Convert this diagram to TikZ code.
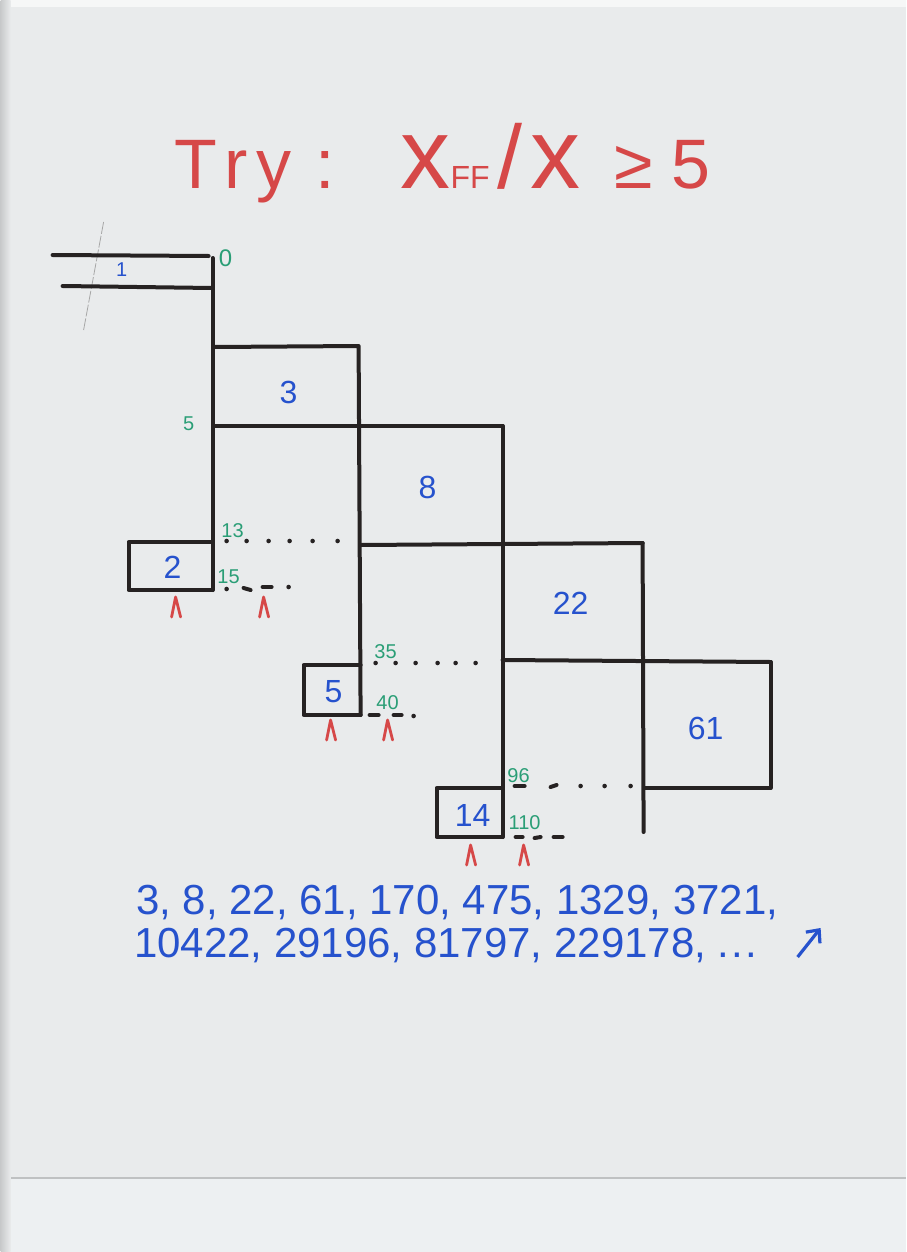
\documentclass[tikz,border=0pt]{standalone}
\usepackage{fontspec}
\setmainfont{Liberation Sans}
\usetikzlibrary{arrows.meta}
\definecolor{paper}{RGB}{233,235,236}
\definecolor{paperlow}{RGB}{237,240,242}
\definecolor{inkblack}{RGB}{38,34,34}
\definecolor{penred}{RGB}{214,72,72}
\definecolor{penblue}{RGB}{38,82,205}
\definecolor{pengreen}{RGB}{42,158,118}
\newcommand\bigx{{\fontsize{50}{50}\selectfont x}}

\begin{document}
\begin{tikzpicture}[x=0.5pt,y=-0.5pt,
    ink/.style={line width=2pt,inkblack,line cap=round,line join=round},
    boxnum/.style={text=penblue,font=\fontsize{16}{16}\selectfont},
    cutnum/.style={text=pengreen,font=\fontsize{10}{10}\selectfont},
    seqline/.style={text=penblue,font=\fontsize{21}{21}\selectfont,inner sep=0pt,anchor=base west},
    upmark/.style={penred,line width=1.4pt,line cap=round,line join=round}]

    % scanned page
    \fill[paper] (0,0) rectangle (905,1252);
    \fill[white!60!paper] (0,0) rectangle (905,7);
    \fill[paperlow] (0,1178) rectangle (905,1252);
    \draw[black!18!paper,line width=0.6pt] (0,1178) -- (905,1178);
    \shade[left color=black!14!paper,right color=paper] (0,0) rectangle (10,1252);
    \useasboundingbox (0,0) rectangle (905,1252);
    \draw[gray!70,line width=0.4pt,dash pattern=on 6pt off 1pt] (103,222) -- (83,330);

    % staircase
    \draw[ink] (52,255) -- (208,256);
    \draw[ink] (62,286) -- (211,288);
    \draw[ink] (212,258) -- (212,590);
    \draw[ink] (212,542) -- (128,542) -- (128,590) -- (212,590);
    \draw[ink] (214,347) -- (358,346) -- (360,715);
    \draw[ink] (214,426) -- (502,426);
    \draw[ink] (502,426) -- (502,837);
    \draw[ink] (360,545) -- (642,543);
    \draw[ink] (642,543) -- (643,832);
    \draw[ink] (502,660) -- (770,662);
    \draw[ink] (770,662) -- (770,788) -- (645,788);
    \draw[ink] (360,665) -- (303,665) -- (303,715) -- (360,715);
    \draw[ink] (502,788) -- (436,788) -- (436,837) -- (502,837);

    \node[boxnum,font=\fontsize{10}{10}\selectfont] (n1) at (121,270) {1};
    \node[boxnum] (n3) at (288,392) {3};
    \node[boxnum] (n8) at (427,487) {8};
    \node[boxnum] (n22) at (570,603) {22};
    \node[boxnum] (n61) at (705,728) {61};
    \node[boxnum] (n2) at (172,567) {2};
    \node[boxnum] (n5) at (333,692) {5};
    \node[boxnum] (n14) at (472,815) {14};

    \node[cutnum,font=\fontsize{12}{12}\selectfont] (c0) at (225,258) {0};
    \node[cutnum] (c5) at (188,424) {5};
    \node[cutnum] (c13) at (232,531) {13};
    \node[cutnum] (c15) at (228,577) {15};
    \node[cutnum] (c35) at (385,652) {35};
    \node[cutnum] (c40) at (387,703) {40};
    \node[cutnum] (c96) at (518,776) {96};
    \node[cutnum] (c110) at (524,823) {110};

    % dotted continuations
    \foreach \x in {226,246,268,289,312,337}
        \fill[inkblack] (\x,541) circle (2.3);
    \fill[inkblack] (226,589) circle (2.3);
    \draw[ink] (243,588) -- (250,590);
    \draw[ink] (262,587) -- (271,587);
    \fill[inkblack] (288,587) circle (2.3);
    \foreach \x in {375,395,415,437,455,475}
        \fill[inkblack] (\x,663) circle (2.3);
    \draw[ink] (369,715) -- (378,715);
    \draw[ink] (393,715) -- (401,715);
    \fill[inkblack] (413,716) circle (2.3);
    \draw[ink] (514,786) -- (524,786);
    \draw[ink] (550,787) -- (556,785);
    \foreach \x in {580,604,630}
        \fill[inkblack] (\x,786) circle (2.3);
    \draw[ink] (515,837) -- (522,837);
    \draw[ink] (534,838) -- (540,837);
    \draw[ink] (553,837) -- (562,837);

    % carets
    \foreach \x/\y in {175/607,263/607,330/730,387/730,470/855,523/855}
        \draw[upmark] (\x-4,\y+10) -- (\x,\y-10) -- (\x+5,\y+10);

    \node[text=penred,font=\fontsize{35}{35}\selectfont,inner sep=0pt,anchor=base west] (title) at (173,188)
        {T\hspace{4pt}r\hspace{4pt}y\hspace{12pt}:\hspace{33pt}\bigx{\fontsize{16}{16}\selectfont FF}\hspace{4pt}{\fontsize{45}{45}\selectfont /}\hspace{4pt}\bigx\hspace{17pt}≥\hspace{9pt}5};

    \node[seqline] (seqa) at (135,914) {3, 8, 22, 61, 170, 475, 1329, 3721,};
    \node[seqline] (seqb) at (133,957) {10422, 29196, 81797, 229178, .\hspace{1pt}.\hspace{1pt}.};
    \coordinate (up0) at (797,957);
    \coordinate (up1) at (820,928);
    \draw[penblue,line width=1.6pt,-{Straight Barb[length=5pt,width=9pt]}] (up0) -- (up1);
\end{tikzpicture}
\end{document}
